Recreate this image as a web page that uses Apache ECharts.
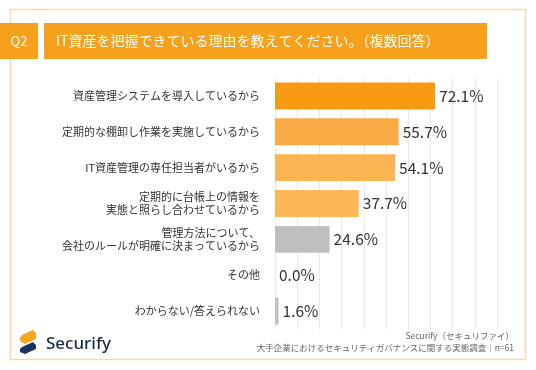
<!DOCTYPE html>
<html><head><meta charset="utf-8">
<script src="https://cdn.jsdelivr.net/npm/echarts@6/dist/echarts.min.js"></script>
<style>html,body{margin:0;padding:0;background:#fff}#c{width:536px;height:370px}</style>
</head><body><div id="c"></div>
<script>
const categories = [
  '資産管理システムを導入しているから',
  '定期的な棚卸し作業を実施しているから',
  'IT資産管理の専任担当者がいるから',
  '定期的に台帳上の情報を\n実態と照らし合わせているから',
  '管理方法について、\n会社のルールが明確に決まっているから',
  'その他',
  'わからない/答えられない'
];
const values = [72.1, 55.7, 54.1, 37.7, 24.6, 0.0, 1.6];
const barColors = ['#F89B14', '#FAAA45', '#FBB452', '#FCB758', '#BFBFBF', '#BFBFBF', '#BFBFBF'];
const titleText = 'IT資産を把握できている理由を教えてください。（複数回答）';
const qLabel = 'Q2';
const sourceLines = ['Securify（セキュリファイ）', '大手企業におけるセキュリティガバナンスに関する実態調査｜n=61'];

const FONT = '"Noto Sans CJK JP", "Noto Sans", sans-serif';
const chart = echarts.init(document.getElementById('c'), null, {renderer: 'canvas'});
chart.setOption({
  backgroundColor: '#fff',
  animation: false,
  grid: {left: 275, right: 39, top: 78, bottom: 41},
  xAxis: {
    type: 'value', min: 0, max: 100, interval: 10,
    axisLabel: {show: false}, axisLine: {show: false}, axisTick: {show: false},
    splitLine: {show: true, lineStyle: {color: '#E8E8E8', width: 1}}
  },
  yAxis: {
    type: 'category', data: categories, inverse: true,
    axisLine: {show: false}, axisTick: {show: false},
    axisLabel: {color: '#333', fontSize: 11, fontFamily: FONT, margin: 15, lineHeight: 13, align: 'right'}
  },
  series: [{
    type: 'bar', data: values.map((v, i) => ({value: v, itemStyle: {color: barColors[i]}})),
    barWidth: '75%',
    label: {show: true, position: 'right', distance: 4, color: '#333', fontSize: 15.5, fontFamily: '"Noto Sans CJK JP", Roboto, sans-serif',
      formatter: p => p.value.toFixed(1) + '%'}
  }],
  graphic: [
    {type: 'rect', shape: {x: 10.5, y: 9.5, width: 515, height: 350}, style: {fill: 'none', stroke: '#F6D9A6', lineWidth: 1.5}, z: -1},
    {type: 'rect', shape: {x: 0, y: 23, width: 38, height: 36}, style: {fill: '#F7A01B'}},
    {type: 'text', x: 19, y: 41, style: {text: qLabel, fill: '#fff', fontSize: 13, fontFamily: FONT, align: 'center', verticalAlign: 'middle'}},
    {type: 'rect', shape: {x: 44, y: 23, width: 443, height: 36}, style: {fill: '#F7A01B'}},
    {type: 'text', x: 56, y: 41, style: {text: titleText, fill: '#fff', fontSize: 14, fontFamily: FONT, verticalAlign: 'middle'}},
    {type: 'polygon', shape: {points: [[22,335],[33,330],[36,333],[36,339],[25,344],[20,341],[20,338]]}, style: {fill: '#F5A623'}},
    {type: 'polygon', shape: {points: [[22,347],[33,342],[36,345],[36,349],[25,354],[20,352],[20,349]]}, style: {fill: '#1D3461'}},
    {type: 'text', x: 46, y: 344, style: {text: 'Securify', fill: '#1E2A44', fontSize: 17, fontWeight: 500, fontFamily: '"Noto Sans", sans-serif', verticalAlign: 'middle'}},
    {type: 'text', x: 514, y: 336, style: {text: sourceLines[0], fill: '#666', fontSize: 8.5, fontFamily: FONT, align: 'right', verticalAlign: 'middle'}},
    {type: 'text', x: 514, y: 348, style: {text: sourceLines[1], fill: '#666', fontSize: 8.5, fontFamily: FONT, align: 'right', verticalAlign: 'middle'}}
  ]
});
</script></body></html>
